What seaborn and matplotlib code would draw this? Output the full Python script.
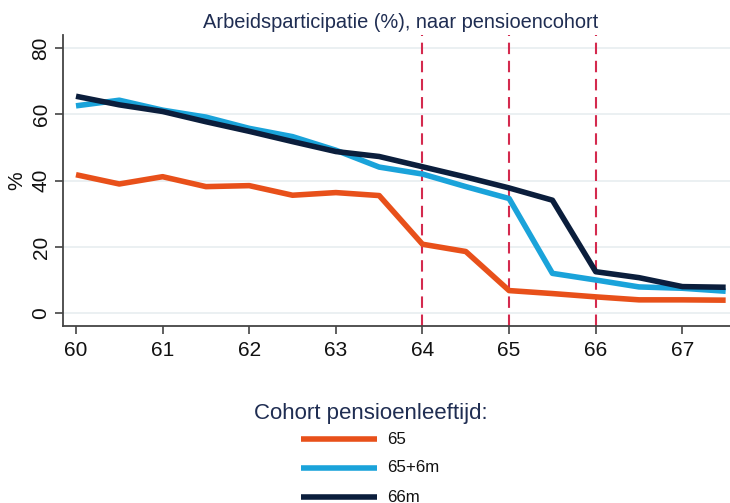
import numpy as np
import pandas as pd
import matplotlib
matplotlib.use("Agg")
import matplotlib.pyplot as plt
import seaborn as sns
from matplotlib.lines import Line2D

ages = [60, 60.5, 61, 61.5, 62, 62.5, 63, 63.5, 64, 64.5, 65, 65.5, 66, 66.5, 67, 67.5]
cohort_65 = [41.8, 39.0, 41.2, 38.2, 38.5, 35.6, 36.4, 35.5, 20.8, 18.6, 6.8, 5.9, 4.9, 4.0, 4.0, 3.9]
cohort_65_6m = [62.6, 64.3, 61.3, 59.2, 55.8, 53.3, 49.2, 44.1, 42.0, 38.2, 34.6, 12.0, 10.0, 7.9, 7.5, 6.6]
cohort_66 = [65.5, 62.9, 60.9, 57.8, 54.9, 51.8, 48.8, 47.3, 44.2, 41.1, 37.8, 34.1, 12.5, 10.7, 8.0, 7.8]
series_names = ["65", "65+6m", "66m"]
ref_ages = [64, 65, 66]
x_ticks = [60, 61, 62, 63, 64, 65, 66, 67]
y_ticks = [0, 20, 40, 60, 80]

colors = {"65": "#E8501A", "65+6m": "#1AA3DA", "66m": "#0B1E3C"}

df = pd.DataFrame({
    "age": ages * 3,
    "value": cohort_65 + cohort_65_6m + cohort_66,
    "cohort": [series_names[0]] * len(ages) + [series_names[1]] * len(ages) + [series_names[2]] * len(ages),
})

sns.set_theme(style="white")
plt.rcParams["font.family"] = ["Liberation Sans", "DejaVu Sans"]

fig = plt.figure(figsize=(7.3, 5.03), dpi=100)
ax = fig.add_axes([63 / 730, (503 - 326) / 503, 1 - 63 / 730, (326 - 35) / 503])

for y in y_ticks:
    ax.axhline(y, color="#E9EFF1", lw=1.3, zorder=0)

for a in ref_ages:
    ax.axvline(a, color="#D42A4E", lw=1.5, ls=(0, (5.5, 3.2)), zorder=1)

sns.lineplot(data=df, x="age", y="value", hue="cohort", palette=colors,
             hue_order=series_names, lw=4, ax=ax, legend=False, zorder=3,
             solid_capstyle="butt")

ax.set_xlim(59.85, 67.55)
ax.set_ylim(-3.9, 84)
ax.set_xticks(x_ticks)
ax.set_yticks(y_ticks)
ax.set_xticklabels([str(t) for t in x_ticks], fontsize=15)
ax.set_yticklabels([str(t) for t in y_ticks], fontsize=15, rotation=90, va="center")
ax.tick_params(axis="both", which="both", length=6, width=1.2, color="#444444",
               bottom=True, left=True, labelcolor="#111111")
ax.tick_params(axis="x", pad=5)
ax.tick_params(axis="y", pad=3)
for s in ["top", "right"]:
    ax.spines[s].set_visible(False)
for s in ["left", "bottom"]:
    ax.spines[s].set_color("#444444")
    ax.spines[s].set_linewidth(1.3)
ax.set_xlabel("")
ax.set_ylabel("%", fontsize=15, color="#111111", labelpad=4)

fig.text(401 / 730, 1 - 22 / 503, "Arbeidsparticipatie (%), naar pensioencohort",
         ha="center", va="center", fontsize=14.4, color="#1F2D52")

fig.text(371 / 730, 1 - 413 / 503, "Cohort pensioenleeftijd:",
         ha="center", va="center", fontsize=16, color="#1F2D52")

rows = [439, 468, 497]
for name, ypix in zip(series_names, rows):
    yf = 1 - ypix / 503
    fig.add_artist(Line2D([301 / 730, 377 / 730], [yf, yf], transform=fig.transFigure,
                          color=colors[name], lw=4, solid_capstyle="butt"))
    fig.text(387 / 730, yf, name, ha="left", va="center", fontsize=12.2, color="#111111")

fig.savefig("out.png", dpi=100)
